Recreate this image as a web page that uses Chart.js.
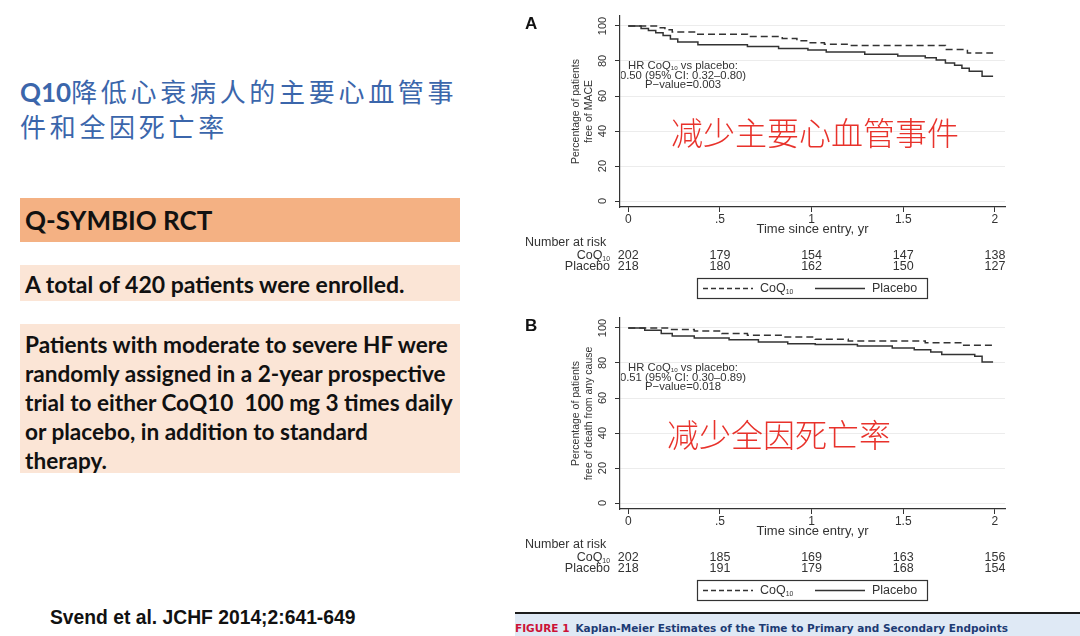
<!DOCTYPE html>
<html lang="zh">
<head>
<meta charset="UTF-8">
<title>Q-SYMBIO Kaplan-Meier</title>
<script src="https://cdn.jsdelivr.net/npm/chart.js"></script>
<style>
  body { margin: 0; width: 1080px; height: 636px; background: #fff; position: relative; overflow: hidden; font-family: Lato, 'Noto Sans', sans-serif; }
  .title { position: absolute; left: 20px; top: 74px; color: #3b66ab; font: 26px/34px 'Noto Sans CJK SC', sans-serif; letter-spacing: 3.7px; white-space: nowrap; }
  .title b { font-family: Lato, sans-serif; letter-spacing: 0; }
  .box { position: absolute; left: 20px; width: 440px; box-sizing: border-box; padding-left: 5px; font-weight: bold; color: #111; white-space: nowrap; }
  .orange { top: 198px; height: 44px; background: #f4b183; font-size: 26px; line-height: 44px; }
  .pale1 { top: 265px; height: 36px; background: #fbe5d6; font-size: 23px; line-height: 38px; }
  .pale2 { top: 324px; height: 149px; background: #fbe5d6; font-size: 22.6px; line-height: 29px; padding-top: 6px; }
  .cite { position: absolute; left: 50px; top: 607px; font: bold 19.3px 'Liberation Sans', Arial, sans-serif; color: #111; }
  .caption { position: absolute; left: 515px; top: 612px; width: 565px; height: 24px; box-sizing: border-box; border-top: 2px solid #1d1d1d; background: #dfe9f5; font: bold 10.5px 'DejaVu Sans', sans-serif; line-height: 28px; color: #1d3b74; white-space: nowrap; }
  .caption span { color: #cc1237; margin-right: 6px; }
  canvas { position: absolute; left: 515px; }
  #kmA { top: 0; }
  #kmB { top: 302px; }
</style>
</head>
<body>
  <div class="title"><b>Q10</b>降低心衰病人的主要心血管事<br>件和全因死亡率</div>
  <div class="box orange">Q-SYMBIO RCT</div>
  <div class="box pale1">A total of 420 patients were enrolled.</div>
  <div class="box pale2">Patients with moderate to severe HF were<br>randomly assigned in a 2-year prospective<br>trial to either CoQ10&nbsp; 100 mg 3 times daily<br>or placebo, in addition to standard<br>therapy.</div>
  <div class="cite">Svend et al. JCHF 2014;2:641-649</div>
  <canvas id="kmA" width="565" height="302"></canvas>
  <canvas id="kmB" width="565" height="302"></canvas>
  <div class="caption"><span>FIGURE 1</span>Kaplan-Meier Estimates of the Time to Primary and Secondary Endpoints</div>

<script>
const timeTicks = [0, 0.5, 1, 1.5, 2];
const timeLabels = ['0', '.5', '1', '1.5', '2'];
const pctTicks = [0, 20, 40, 60, 80, 100];

// Panel A: free of MACE (time in years, % event free)
const maceCoqT = [0, 0.17, 0.2, 0.24, 0.37, 0.65, 0.84, 0.92, 0.98, 1.07, 1.2, 1.73, 1.85, 1.99];
const maceCoqS = [100, 99, 97.8, 96.6, 95.3, 94, 92.8, 91.5, 90.4, 89.5, 88.8, 86.5, 84.6, 84.6];
const macePlaT = [0, 0.07, 0.11, 0.15, 0.19, 0.23, 0.27, 0.38, 0.65, 0.82, 0.98, 1.08, 1.29, 1.47, 1.62, 1.68, 1.73, 1.78, 1.82, 1.86, 1.93, 1.99];
const macePlaS = [100, 98.6, 97.4, 96.2, 94.6, 92.6, 90.8, 89.3, 88.3, 87.2, 86.3, 85.2, 83.8, 82.9, 81.8, 80.6, 78.8, 77.6, 75.9, 74.2, 71.3, 71.3];

// Panel B: free of death from any cause
const deathCoqT = [0, 0.22, 0.36, 0.51, 0.65, 0.84, 1.02, 1.2, 1.62, 1.82, 1.99];
const deathCoqS = [100, 99.2, 98.3, 96.8, 95.8, 94.9, 93.5, 92.6, 91.6, 90.1, 90.1];
const deathPlaT = [0, 0.09, 0.18, 0.24, 0.36, 0.55, 0.71, 0.87, 1.02, 1.25, 1.44, 1.56, 1.65, 1.71, 1.89, 1.93, 1.99];
const deathPlaS = [100, 98.7, 96.8, 95.4, 94.3, 93.3, 92, 91, 90.5, 89.7, 88.6, 87.6, 86.3, 84.8, 83.8, 80.6, 80.6];

// Number at risk
const riskTimes = [0, 0.5, 1, 1.5, 2];
const maceRiskCoq = [202, 179, 154, 147, 138];
const maceRiskPla = [218, 180, 162, 150, 127];
const deathRiskCoq = [202, 185, 169, 163, 156];
const deathRiskPla = [218, 191, 179, 168, 154];

const FONT = "'Liberation Sans', Arial, sans-serif";
const INK = '#333';

function pts(T, S) {
  return T.map((t, i) => ({ x: t, y: S[i] }));
}

// text with optional subscript parts: [[text, isSub], ...]
function drawRich(ctx, parts, x, y, size, align) {
  const widths = parts.map(([t, sub]) => {
    ctx.font = (sub ? size * 0.55 : size) + 'px ' + FONT;
    return ctx.measureText(t).width;
  });
  const total = widths.reduce((a, b) => a + b, 0);
  let cx = align === 'right' ? x - total : align === 'center' ? x - total / 2 : x;
  ctx.textAlign = 'left';
  ctx.textBaseline = 'middle';
  parts.forEach(([t, sub], i) => {
    ctx.font = (sub ? size * 0.55 : size) + 'px ' + FONT;
    ctx.fillText(t, cx, sub ? y + size * 0.28 : y);
    cx += widths[i];
  });
}

const COQ = [['CoQ'], ['10', true]];

const kmOverlay = {
  id: 'kmOverlay',
  afterDraw(chart, args, o) {
    const { ctx, chartArea: a } = chart;
    const x = chart.scales.x;
    ctx.save();

    ctx.fillStyle = '#111';
    ctx.font = 'bold 17px ' + FONT;
    ctx.textAlign = 'left';
    ctx.textBaseline = 'middle';
    ctx.fillText(o.letter, 10, 24);

    // hazard ratio note, clipped at the y axis like the original
    ctx.save();
    ctx.beginPath();
    ctx.rect(a.left + 1, a.top, a.right - a.left, a.bottom - a.top);
    ctx.clip();
    ctx.fillStyle = INK;
    const hx = a.left + 63;
    drawRich(ctx, [['HR CoQ'], ['10', true], [' vs placebo:']], hx, a.top + 49.5, 11.3, 'center');
    drawRich(ctx, [[o.hr]], hx, a.top + 60, 11.3, 'center');
    drawRich(ctx, [[o.p]], hx, a.top + 69, 11.3, 'center');
    ctx.restore();

    // red chinese note
    ctx.fillStyle = '#e8322b';
    ctx.font = '300 32px "Noto Sans CJK SC"';
    ctx.textAlign = 'left';
    ctx.textBaseline = 'middle';
    ctx.fillText(o.note, a.left + o.noteDx, a.top + 117);

    // number at risk table
    ctx.fillStyle = INK;
    const fs = 12.5;
    drawRich(ctx, [['Number at risk']], 10, a.bottom + 36, fs, 'left');
    drawRich(ctx, COQ, 95, a.bottom + 49, fs, 'right');
    drawRich(ctx, [['Placebo']], 95, a.bottom + 60, fs, 'right');
    riskTimes.forEach((t, i) => {
      const px = x.getPixelForValue(t);
      drawRich(ctx, [[String(o.riskCoq[i])]], px, a.bottom + 49, fs, 'center');
      drawRich(ctx, [[String(o.riskPla[i])]], px, a.bottom + 60, fs, 'center');
    });

    // legend box
    const top = a.bottom + 71.5;
    const ly = top + 10;
    ctx.strokeStyle = INK;
    ctx.lineWidth = 1.2;
    ctx.strokeRect(182.5, top, 230, 20);
    ctx.lineWidth = 1.3;
    ctx.setLineDash([5, 3]);
    ctx.beginPath(); ctx.moveTo(188, ly); ctx.lineTo(238, ly); ctx.stroke();
    ctx.setLineDash([]);
    ctx.beginPath(); ctx.moveTo(300, ly); ctx.lineTo(350, ly); ctx.stroke();
    drawRich(ctx, COQ, 245, ly, fs, 'left');
    drawRich(ctx, [['Placebo']], 357, ly, fs, 'left');

    ctx.restore();
  }
};

function makeKm(id, coq, pla, yTitle, overlay) {
  return new Chart(document.getElementById(id), {
    type: 'line',
    data: {
      datasets: [
        { label: 'CoQ10', data: coq, borderColor: INK, borderWidth: 1.5, borderDash: [7, 4], pointRadius: 0, stepped: true, fill: false },
        { label: 'Placebo', data: pla, borderColor: INK, borderWidth: 1.5, pointRadius: 0, stepped: true, fill: false }
      ]
    },
    options: {
      responsive: false,
      animation: false,
      layout: { padding: { top: 16, left: 0, right: 75, bottom: 65 } },
      plugins: { legend: { display: false }, tooltip: { enabled: false }, kmOverlay: overlay },
      scales: {
        x: {
          type: 'linear', min: -0.045, max: 2.055,
          afterBuildTicks: s => { s.ticks = timeTicks.map(v => ({ value: v })); },
          afterFit: s => { s.height = 30; },
          ticks: { callback: v => timeLabels[timeTicks.indexOf(v)], color: INK, font: { family: FONT, size: 12 }, padding: 0, maxRotation: 0 },
          grid: { drawOnChartArea: false, tickLength: 5, tickColor: INK, tickWidth: 1 },
          border: { color: INK, width: 1.2 },
          title: { display: true, text: 'Time since entry, yr', color: INK, font: { family: FONT, size: 13 }, padding: { top: 0, bottom: 0 } }
        },
        y: {
          min: -3.4, max: 105.7,
          afterBuildTicks: s => { s.ticks = pctTicks.map(v => ({ value: v })); },
          afterFit: s => { s.width = 105; },
          ticks: { color: INK, font: { family: FONT, size: 11 }, minRotation: 90, maxRotation: 90, crossAlign: 'center', padding: 3 },
          grid: { color: '#ececec', tickLength: 5, tickColor: INK, tickWidth: 1 },
          border: { color: INK, width: 1.2 },
          title: { display: true, text: yTitle, color: INK, font: { family: FONT, size: 10.5, lineHeight: 1.29 }, padding: { top: 54, bottom: 0 } }
        }
      }
    },
    plugins: [kmOverlay]
  });
}

makeKm('kmA', pts(maceCoqT, maceCoqS), pts(macePlaT, macePlaS),
  ['Percentage of patients', 'free of MACE'],
  { letter: 'A', hr: '0.50 (95% CI: 0.32\u20130.80)', p: 'P\u2212value=0.003', note: '减少主要心血管事件', noteDx: 51, riskCoq: maceRiskCoq, riskPla: maceRiskPla });

makeKm('kmB', pts(deathCoqT, deathCoqS), pts(deathPlaT, deathPlaS),
  ['Percentage of patients', 'free of death from any cause'],
  { letter: 'B', hr: '0.51 (95% CI: 0.30\u20130.89)', p: 'P\u2212value=0.018', note: '减少全因死亡率', noteDx: 47, riskCoq: deathRiskCoq, riskPla: deathRiskPla });
</script>
</body>
</html>
